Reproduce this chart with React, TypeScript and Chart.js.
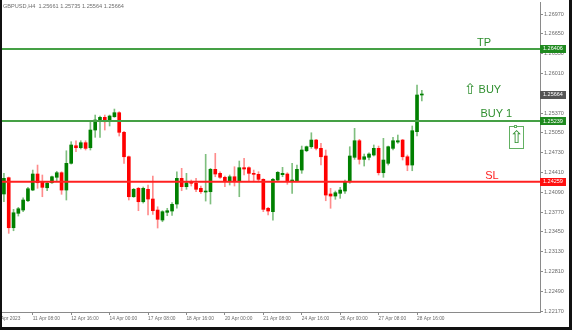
import React, { useEffect, useRef } from "react";
import { Chart, registerables } from "chart.js";

Chart.register(...registerables);

const SYMBOL = "GBPUSD";
const TIMEFRAME = "H4";
const HEADER_OHLC = [1.25661, 1.25735, 1.25564, 1.25664];

// bar index of the first candle (10 Apr 2023 08:00 = index 2, H4 bars)
const FIRST_BAR_INDEX = 2;

const OPEN = [
  1.24061, 1.24324, 1.23516, 1.23749, 1.23802, 1.23952, 1.24125, 1.24384, 1.24259, 1.24162,
  1.24243, 1.24331, 1.24405, 1.24125, 1.24557, 1.24841, 1.24809, 1.24890, 1.24809, 1.25095,
  1.25245, 1.25300, 1.25245, 1.25310, 1.25375, 1.25058, 1.24663, 1.24017, 1.24153, 1.23936,
  1.24137, 1.23980, 1.23802, 1.23640, 1.23765, 1.23786, 1.23899, 1.24314, 1.24179, 1.24259,
  1.24234, 1.24153, 1.24093, 1.24098, 1.24460, 1.24395, 1.24331, 1.24276, 1.24340, 1.24271,
  1.24486, 1.24486, 1.24395, 1.24379, 1.24298, 1.23830, 1.23775, 1.24287, 1.24373, 1.24384,
  1.24271, 1.24276, 1.24448, 1.24760, 1.24825, 1.24933, 1.24799, 1.24675, 1.24061, 1.24028,
  1.24072, 1.24109, 1.24259, 1.24654, 1.24922, 1.24621, 1.24654, 1.24691, 1.24799, 1.24405,
  1.24557, 1.24799, 1.24901, 1.24933, 1.24663, 1.24529, 1.25068, 1.25661,
];
const HIGH = [
  1.24395, 1.24335, 1.23813, 1.23846, 1.24001, 1.24169, 1.24448, 1.24529, 1.24368, 1.24259,
  1.24351, 1.24428, 1.24421, 1.24760, 1.24906, 1.24922, 1.24922, 1.24922, 1.25219, 1.25337,
  1.25321, 1.25337, 1.25337, 1.25434, 1.25391, 1.25074, 1.24675, 1.24153, 1.24169, 1.24174,
  1.24206, 1.24351, 1.23855, 1.23791, 1.23830, 1.23923, 1.24421, 1.24476, 1.24395, 1.24287,
  1.24314, 1.24190, 1.24702, 1.24476, 1.24718, 1.24421, 1.24351, 1.24368, 1.24502, 1.24594,
  1.24638, 1.24502, 1.24448, 1.24421, 1.24308, 1.23846, 1.24314, 1.24424, 1.24492, 1.24405,
  1.24557, 1.24529, 1.24836, 1.24836, 1.25051, 1.24945, 1.24880, 1.24772, 1.24153, 1.24109,
  1.24169, 1.24287, 1.24825, 1.25122, 1.24945, 1.24707, 1.24728, 1.24853, 1.24836, 1.24961,
  1.24836, 1.24977, 1.25014, 1.24945, 1.24691, 1.25160, 1.25822, 1.25735,
];
const LOW = [
  1.23936, 1.23425, 1.23467, 1.23705, 1.23775, 1.23936, 1.24114, 1.24153, 1.24017, 1.24114,
  1.24234, 1.24266, 1.24056, 1.23964, 1.24545, 1.24744, 1.24788, 1.24772, 1.24772, 1.24977,
  1.24977, 1.25095, 1.25160, 1.25300, 1.24998, 1.24557, 1.23964, 1.24007, 1.23791, 1.23915,
  1.23721, 1.23729, 1.23511, 1.23613, 1.23710, 1.23713, 1.23834, 1.24114, 1.24137, 1.24190,
  1.24098, 1.24072, 1.23947, 1.23899, 1.24340, 1.24314, 1.24179, 1.24206, 1.24190, 1.24017,
  1.24368, 1.24259, 1.24259, 1.24259, 1.23775, 1.23721, 1.23640, 1.24271, 1.24340, 1.24217,
  1.24072, 1.24259, 1.24395, 1.24744, 1.24799, 1.24772, 1.24529, 1.23952, 1.23830, 1.23975,
  1.23991, 1.24072, 1.24234, 1.24621, 1.24545, 1.24513, 1.24610, 1.24675, 1.24368, 1.24331,
  1.24529, 1.24772, 1.24880, 1.24610, 1.24437, 1.24437, 1.24998, 1.25564,
];
const CLOSE = [
  1.24314, 1.23516, 1.23758, 1.23823, 1.23964, 1.24146, 1.24384, 1.24243, 1.24169, 1.24234,
  1.24340, 1.24405, 1.24125, 1.24557, 1.24853, 1.24809, 1.24890, 1.24799, 1.25095, 1.25257,
  1.25300, 1.25229, 1.25321, 1.25375, 1.25058, 1.24663, 1.24017, 1.24137, 1.23936, 1.24153,
  1.23980, 1.23791, 1.23652, 1.23775, 1.23791, 1.23894, 1.24314, 1.24179, 1.24243, 1.24234,
  1.24137, 1.24098, 1.24109, 1.24460, 1.24384, 1.24331, 1.24271, 1.24340, 1.24271, 1.24486,
  1.24465, 1.24395, 1.24379, 1.24298, 1.23813, 1.23786, 1.24298, 1.24411, 1.24395, 1.24276,
  1.24287, 1.24460, 1.24772, 1.24825, 1.24933, 1.24799, 1.24663, 1.24044, 1.24028, 1.24082,
  1.24125, 1.24259, 1.24675, 1.24922, 1.24621, 1.24663, 1.24707, 1.24799, 1.24405, 1.24610,
  1.24825, 1.24922, 1.24922, 1.24663, 1.24529, 1.25084, 1.25661, 1.25664,
];

const TIME_TICK_INDEX = [0, 8, 16, 24, 32, 40, 48, 56, 64, 72, 80, 88];
const TIME_TICK_LABELS = [
  "10 Apr 2023", "11 Apr 08:00", "12 Apr 16:00", "14 Apr 00:00", "17 Apr 08:00", "18 Apr 16:00",
  "20 Apr 00:00", "21 Apr 08:00", "24 Apr 16:00", "26 Apr 00:00", "27 Apr 08:00", "28 Apr 16:00",
];
const PRICE_TICKS = [
  1.2217, 1.2249, 1.2281, 1.2313, 1.2345, 1.2377, 1.2409, 1.2441,
  1.2473, 1.2505, 1.2537, 1.2569, 1.2601, 1.2633, 1.2665, 1.2697,
];

const TP_PRICE = 1.26406;
const BUY1_PRICE = 1.25239;
const SL_PRICE = 1.24259;
const LAST_PRICE = 1.25664;

// visible window
const X_MIN = 1.6;
const X_MAX = 113.6;
const Y_MIN = 1.22154;
const Y_MAX = 1.27164;

// text-object anchors (bar index)
const TP_TEXT_X = 100.5;
const BUY1_TEXT_X = 101.2;
const SL_TEXT_X = 102.2;
const BUY_SIGNAL_X = 98.0;
const BUY_SIGNAL_PRICE = 1.25774;
const BUY_ARROW_X = 107.2;

const BULL = "#008000";
const BEAR = "#ff0000";
const BULL_WICK = "rgba(0,128,0,0.5)";
const BEAR_WICK = "rgba(255,0,0,0.45)";
const LINE_GREEN = "#45a045";
const LINE_RED = "#ff2020";
const TEXT_GREEN = "#2f8f2f";
const AXIS_COLOR = "#8a8a8a";
const LABEL_COLOR = "#6a6a6a";
const FONT = "Liberation Sans";

const annotations = {
  id: "annotations",
  afterDraw(chart: any) {
    const { ctx, scales } = chart;
    const x = scales.x;
    const y = scales.y;
    const area = chart.chartArea;
    ctx.save();

    // header
    ctx.font = `5.6px "${FONT}"`;
    ctx.fillStyle = "#6e6e6e";
    ctx.textAlign = "left";
    ctx.textBaseline = "middle";
    ctx.fillText(`${SYMBOL},${TIMEFRAME}  ${HEADER_OHLC.map((v) => v.toFixed(5)).join(" ")}`, 3, 6);

    // line descriptions
    ctx.font = `11px "${FONT}"`;
    ctx.textBaseline = "alphabetic";
    ctx.fillStyle = TEXT_GREEN;
    ctx.fillText("TP", x.getPixelForValue(TP_TEXT_X), y.getPixelForValue(TP_PRICE) - 3);
    ctx.fillText("BUY 1", x.getPixelForValue(BUY1_TEXT_X), y.getPixelForValue(BUY1_PRICE) - 4);
    ctx.fillStyle = LINE_RED;
    ctx.fillText("SL", x.getPixelForValue(SL_TEXT_X), y.getPixelForValue(SL_PRICE) - 3);

    // buy signal
    ctx.fillStyle = TEXT_GREEN;
    const bx = x.getPixelForValue(BUY_SIGNAL_X);
    const by = y.getPixelForValue(BUY_SIGNAL_PRICE);
    ctx.font = `15px "DejaVu Sans"`;
    ctx.fillText("\u21E7", bx - 1, by + 6);
    ctx.font = `11px "${FONT}"`;
    ctx.fillText("BUY", bx + 13.5, by + 4.5);

    // buy arrow object with selection box
    const ax = x.getPixelForValue(BUY_ARROW_X);
    const ay = y.getPixelForValue(BUY1_PRICE) + 5;
    ctx.strokeStyle = "#62b062";
    ctx.lineWidth = 1;
    ctx.strokeRect(Math.round(ax) + 0.5, Math.round(ay) + 0.5, 14, 22);
    ctx.fillStyle = "#ffffff";
    ctx.fillRect(Math.round(ax) + 5, Math.round(ay) - 1, 3, 3);
    ctx.strokeRect(Math.round(ax) + 5.5, Math.round(ay) - 0.5, 2, 2);
    ctx.fillStyle = TEXT_GREEN;
    ctx.font = `17px "DejaVu Sans"`;
    ctx.textAlign = "center";
    ctx.fillText("\u21E7", Math.round(ax) + 7.5, Math.round(ay) + 17);

    // price tags on the scale
    const tag = (price: number, bg: string) => {
      const py = y.getPixelForValue(price);
      ctx.fillStyle = bg;
      ctx.fillRect(area.right, Math.round(py) - 4, 26, 8);
      ctx.fillStyle = "#ffffff";
      ctx.font = `5.5px "${FONT}"`;
      ctx.textAlign = "left";
      ctx.textBaseline = "middle";
      ctx.fillText(price.toFixed(5), area.right + 3, py);
    };
    tag(TP_PRICE, "#1f8a1f");
    tag(LAST_PRICE, "#555555");
    tag(BUY1_PRICE, "#1f8a1f");
    tag(SL_PRICE, "#ff1010");

    // window frame
    ctx.fillStyle = "#111111";
    ctx.fillRect(0, 0, 2, 330);
    ctx.fillRect(569, 0, 3, 330);
    ctx.fillRect(0, 327, 572, 3);
    ctx.restore();
  },
};

export default function App() {
  const ref = useRef<HTMLCanvasElement | null>(null);

  useEffect(() => {
    if (!ref.current) return;
    const idx = OPEN.map((_, k) => FIRST_BAR_INDEX + k);
    const up = OPEN.map((o, k) => CLOSE[k] >= o);
    const hline = (price: number) => [
      { x: X_MIN, y: price },
      { x: X_MAX, y: price },
    ];

    const chart = new Chart(ref.current, {
      type: "bar",
      data: {
        datasets: [
          {
            type: "line",
            data: hline(TP_PRICE),
            borderColor: LINE_GREEN,
            borderWidth: 2,
            pointRadius: 0,
            order: 0,
          } as any,
          {
            type: "line",
            data: hline(BUY1_PRICE),
            borderColor: LINE_GREEN,
            borderWidth: 2,
            pointRadius: 0,
            order: 0,
          } as any,
          {
            type: "line",
            data: hline(SL_PRICE),
            borderColor: LINE_RED,
            borderWidth: 2,
            pointRadius: 0,
            order: 0,
          } as any,
          {
            type: "bar",
            data: idx.map((i, k) => ({ x: i, y: [OPEN[k], CLOSE[k]] })),
            backgroundColor: up.map((u) => (u ? BULL : BEAR)),
            barThickness: 3,
            minBarLength: 1,
            grouped: false,
            borderWidth: 0,
            order: 1,
          } as any,
          {
            type: "bar",
            data: idx.map((i, k) => ({ x: i, y: [LOW[k], HIGH[k]] })),
            backgroundColor: up.map((u) => (u ? BULL_WICK : BEAR_WICK)),
            barThickness: 1,
            minBarLength: 1,
            grouped: false,
            borderWidth: 0,
            order: 2,
          } as any,
        ],
      },
      options: {
        responsive: false,
        animation: false,
        events: [],
        layout: { padding: { left: 2, right: 0, top: 2, bottom: 3 } },
        plugins: { legend: { display: false }, tooltip: { enabled: false }, title: { display: false } },
        scales: {
          x: {
            type: "linear",
            position: "bottom",
            offset: false,
            min: X_MIN,
            max: X_MAX,
            afterBuildTicks: (s: any) => {
              s.ticks = TIME_TICK_INDEX.map((v) => ({ value: v }));
            },
            afterFit: (s: any) => {
              s.height = 15;
              s.paddingLeft = 0;
              s.paddingRight = 0;
            },
            ticks: {
              autoSkip: false,
              maxRotation: 0,
              minRotation: 0,
              align: "start",
              padding: 1,
              color: LABEL_COLOR,
              font: { family: FONT, size: 4.8 },
              callback: (v: any) => {
                const k = TIME_TICK_INDEX.indexOf(Number(v));
                return k >= 0 ? TIME_TICK_LABELS[k] : "";
              },
            },
            grid: { offset: false, drawOnChartArea: false, drawTicks: true, tickLength: 3, color: AXIS_COLOR },
            border: { display: true, color: AXIS_COLOR, width: 1 },
          },
          y: {
            type: "linear",
            position: "right",
            min: Y_MIN,
            max: Y_MAX,
            beginAtZero: false,
            afterBuildTicks: (s: any) => {
              s.ticks = PRICE_TICKS.map((v) => ({ value: v }));
            },
            afterFit: (s: any) => {
              s.width = 32;
              s.paddingTop = 0;
              s.paddingBottom = 0;
            },
            ticks: {
              autoSkip: false,
              padding: 1,
              color: LABEL_COLOR,
              font: { family: FONT, size: 5.5 },
              callback: (v: any) => Number(v).toFixed(5),
            },
            grid: { drawOnChartArea: false, drawTicks: true, tickLength: 3, color: AXIS_COLOR },
            border: { display: true, color: AXIS_COLOR, width: 1 },
          },
        },
      },
      plugins: [annotations],
    } as any);

    return () => chart.destroy();
  }, []);

  return (
    <div style={{ position: "absolute", left: 0, top: 0, width: 572, height: 330, background: "#ffffff" }}>
      <canvas ref={ref} width={572} height={330} style={{ width: 572, height: 330, display: "block" }} />
    </div>
  );
}
